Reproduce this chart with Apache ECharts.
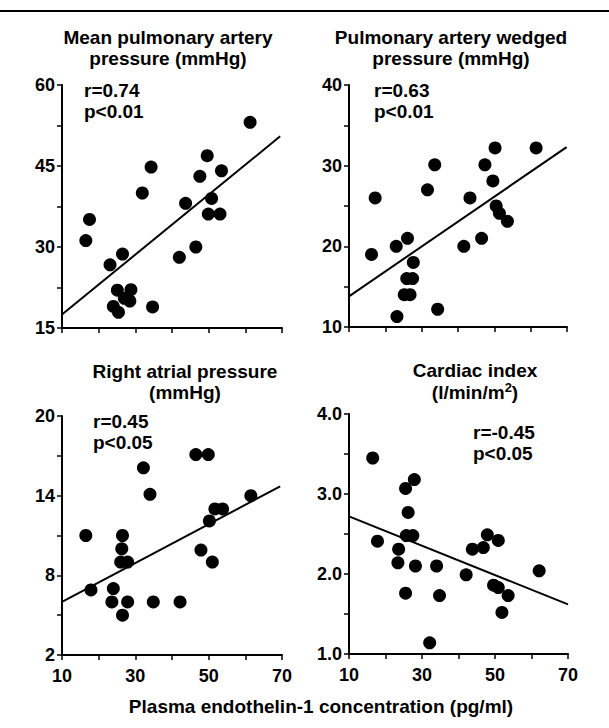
<!DOCTYPE html>
<html>
<head>
<meta charset="utf-8">
<title>Plasma endothelin-1 vs haemodynamics</title>
<script src="https://cdn.jsdelivr.net/npm/echarts@6/dist/echarts.min.js"></script>
<style>
  html, body { margin: 0; padding: 0; background: #fff; }
  #chart { width: 609px; height: 728px; }
</style>
</head>
<body>
<div id="chart"></div>
<script>
// shared x axis: plasma endothelin-1 (pg/ml)
const xTicks = [10, 20, 30, 40, 50, 60, 70]
const xLabels = [10, 30, 50, 70]

// mean pulmonary artery pressure (mmHg)
const mpapPoints = [
  [16.5, 31.2], [17.5, 35.1], [23.1, 26.7], [26.5, 28.7], [25.1, 22.0], [28.8, 22.1],
  [24.0, 19.0], [25.4, 17.9], [28.5, 20.0], [27.0, 20.5], [34.7, 18.9], [31.9, 40.0],
  [34.3, 44.8], [42.0, 28.1], [43.7, 38.1], [46.5, 30.0], [47.6, 43.1], [49.6, 46.9],
  [50.8, 39.0], [49.9, 36.1], [53.1, 36.1], [53.5, 44.1], [61.3, 53.1]
]
const mpapFit = [[10, 17.5], [69.5, 50.5]]
const mpapTicks = [15, 22.5, 30, 37.5, 45, 52.5, 60]
const mpapLabels = [15, 30, 45, 60]

// pulmonary artery wedged pressure (mmHg)
const pawpPoints = [
  [16.2, 19.0], [17.2, 26.0], [23.0, 20.0], [26.1, 21.0], [23.2, 11.3], [27.7, 18.0],
  [25.9, 16.0], [27.5, 16.0], [25.2, 14.0], [26.8, 14.0], [31.6, 27.0], [33.6, 30.1],
  [34.4, 12.2], [41.6, 20.0], [43.3, 26.0], [46.5, 21.0], [47.4, 30.1], [50.2, 32.2],
  [49.6, 28.1], [50.5, 25.0], [51.4, 24.1], [53.6, 23.1], [61.5, 32.2]
]
const pawpFit = [[10, 13.8], [69.9, 32.3]]
const pawpTicks = [10, 15, 20, 25, 30, 35, 40]
const pawpLabels = [10, 20, 30, 40]

// right atrial pressure (mmHg)
const rapPoints = [
  [16.5, 11.0], [17.9, 6.9], [26.5, 11.0], [26.3, 10.0], [26.0, 9.0], [27.9, 9.0],
  [24.0, 7.0], [23.6, 6.0], [27.9, 6.0], [26.5, 5.0], [32.2, 16.1], [34.0, 14.1],
  [34.9, 6.0], [42.2, 6.0], [46.5, 17.1], [49.9, 17.1], [47.9, 9.9], [50.2, 12.1],
  [51.0, 9.0], [51.7, 13.0], [53.8, 13.0], [61.5, 14.0]
]
const rapFit = [[10, 6.0], [69.5, 14.7]]
const rapTicks = [2, 5, 8, 11, 14, 17, 20]
const rapLabels = [2, 8, 14, 20]

// cardiac index (l/min/m2)
const ciPoints = [
  [16.5, 3.45], [17.8, 2.41], [23.6, 2.31], [23.4, 2.14], [25.5, 3.07], [27.9, 3.18],
  [26.2, 2.77], [25.7, 2.48], [27.5, 2.48], [25.5, 1.76], [28.2, 2.10], [34.0, 2.10],
  [34.8, 1.73], [32.1, 1.14], [42.1, 1.99], [43.8, 2.31], [46.8, 2.33], [47.9, 2.49],
  [50.9, 2.42], [49.6, 1.86], [50.9, 1.83], [53.6, 1.73], [51.9, 1.52], [62.1, 2.04]
]
const ciFit = [[10, 2.72], [70, 1.62]]
const ciTicks = [1.0, 1.5, 2.0, 2.5, 3.0, 3.5, 4.0]
const ciLabels = [1.0, 2.0, 3.0, 4.0]

const font = '"Liberation Sans", Arial, Helvetica, sans-serif'

const panels = [
  { points: mpapPoints, fit: mpapFit, yTicks: mpapTicks, yLabels: mpapLabels, min: 15, max: 60,
    grid: { left: 62, top: 85, width: 220, height: 243 }, showX: false, dec: 0 },
  { points: pawpPoints, fit: pawpFit, yTicks: pawpTicks, yLabels: pawpLabels, min: 10, max: 40,
    grid: { left: 349, top: 85, width: 218, height: 242 }, showX: false, dec: 0 },
  { points: rapPoints, fit: rapFit, yTicks: rapTicks, yLabels: rapLabels, min: 2, max: 20,
    grid: { left: 62, top: 416, width: 220, height: 239 }, showX: true, dec: 0 },
  { points: ciPoints, fit: ciFit, yTicks: ciTicks, yLabels: ciLabels, min: 1, max: 4,
    grid: { left: 349, top: 414, width: 219, height: 240 }, showX: true, dec: 1 }
]

const axisLine = { show: true, onZero: false, lineStyle: { color: '#000', width: 2 } }
const tickStyle = { color: '#000', width: 1.5 }
const labelStyle = { color: '#000', fontSize: 18, fontWeight: 'bold', fontFamily: font }

const grids = [], xAxes = [], yAxes = [], series = []
panels.forEach((p, i) => {
  grids.push(p.grid)
  xAxes.push({
    gridIndex: i, type: 'value', min: 10, max: 70,
    axisLine: axisLine,
    axisTick: { show: true, length: 5, customValues: xTicks, lineStyle: tickStyle },
    axisLabel: Object.assign({ show: p.showX, customValues: xLabels, margin: 12 }, labelStyle),
    splitLine: { show: false }
  })
  yAxes.push({
    gridIndex: i, type: 'value', min: p.min, max: p.max,
    axisLine: axisLine,
    axisTick: { show: true, length: 5, customValues: p.yTicks, lineStyle: tickStyle },
    axisLabel: Object.assign({
      customValues: p.yLabels, margin: 7,
      formatter: v => v.toFixed(p.dec)
    }, labelStyle),
    splitLine: { show: false }
  })
  series.push({
    type: 'scatter', xAxisIndex: i, yAxisIndex: i, data: p.points,
    symbol: 'circle', symbolSize: 13, itemStyle: { color: '#000', opacity: 1 }, z: 3
  })
  series.push({
    type: 'line', xAxisIndex: i, yAxisIndex: i, data: p.fit,
    symbol: 'none', lineStyle: { color: '#000', width: 2 }, z: 2
  })
})

function txt(x, y, text, size, align, extra) {
  return {
    type: 'text', x: x, y: y,
    style: Object.assign({
      text: text, fill: '#000', align: align, verticalAlign: 'middle',
      font: 'bold ' + size + 'px ' + font, lineHeight: 21
    }, extra || {})
  }
}

const graphic = [
  { type: 'line', shape: { x1: 0, y1: 11, x2: 609, y2: 11 }, style: { stroke: '#000', lineWidth: 2 } },
  // panel titles
  txt(168, 48, 'Mean pulmonary artery\npressure (mmHg)', 19, 'center'),
  txt(451, 48, 'Pulmonary artery wedged\npressure (mmHg)', 19, 'center'),
  txt(185, 382, 'Right atrial pressure\n(mmHg)', 19, 'center'),
  txt(475, 381, '{t|Cardiac index}\n{t|(l/min/m}{s|2}{t|)}', 19, 'center', {
    rich: {
      t: { font: 'bold 19px ' + font, fill: '#000', lineHeight: 22 },
      s: { font: 'bold 13px ' + font, fill: '#000', lineHeight: 22, verticalAlign: 'top' }
    }
  }),
  // correlation stats
  txt(84, 101, 'r=0.74\np<0.01', 19, 'left'),
  txt(374, 101, 'r=0.63\np<0.01', 19, 'left'),
  txt(93, 432, 'r=0.45\np<0.05', 19, 'left'),
  txt(473, 443, 'r=-0.45\np<0.05', 19, 'left'),
  // shared x axis name
  txt(321, 706, 'Plasma endothelin-1 concentration (pg/ml)', 19, 'center')
]

const chart = echarts.init(document.getElementById('chart'), null, { renderer: 'svg' })
chart.setOption({
  backgroundColor: '#fff',
  animation: false,
  grid: grids,
  xAxis: xAxes,
  yAxis: yAxes,
  series: series,
  graphic: graphic
})
</script>
</body>
</html>
